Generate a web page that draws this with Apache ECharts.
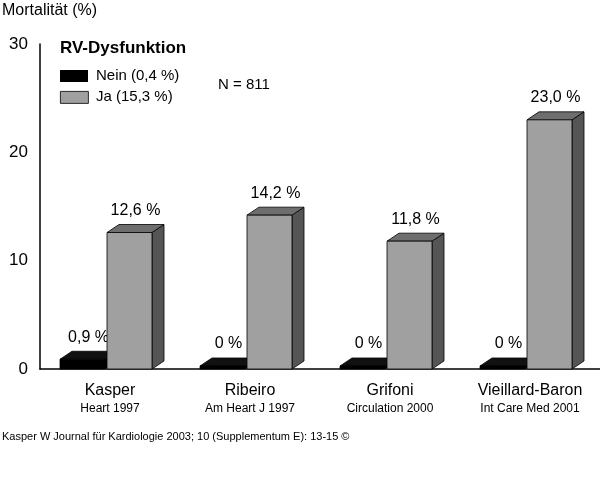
<!DOCTYPE html>
<html><head><meta charset="utf-8">
<script src="https://cdn.jsdelivr.net/npm/echarts@6/dist/echarts.min.js"></script>
<style>html,body{margin:0;padding:0;background:#fff}#c{width:600px;height:488px}</style>
</head><body><div id="c"></div>
<script>
const categories = ['Kasper','Ribeiro','Grifoni','Vieillard-Baron'];
const subtitles = ['Heart 1997','Am Heart J 1997','Circulation 2000','Int Care Med 2001'];
const nein = [0.9, 0, 0, 0];
const ja = [12.6, 14.2, 11.8, 23.0];
const neinLabels = ['0,9 %','0 %','0 %','0 %'];
const jaLabels = ['12,6 %','14,2 %','11,8 %','23,0 %'];
const yTicks = [0, 10, 20, 30];

const FONT = '"Liberation Sans", Arial, sans-serif';
function make3d(offL, offR, front, top, side, labels) {
  return function (params, api) {
    const i = api.value(0), v = api.value(1);
    const base = api.coord([i, 0]);
    const tp = api.coord([i, v]);
    const x0 = base[0] + offL, x1 = base[0] + offR;
    let yt = Math.min(tp[1], base[1] - 3);
    const yb = base[1];
    const dx = 12, dy = 8;
    const s = { stroke: '#000', lineWidth: 0.8 };
    return { type: 'group', children: [
      { type: 'polygon', shape: { points: [[x1, yt], [x1 + dx, yt - dy], [x1 + dx, yb - dy], [x1, yb]] }, style: Object.assign({ fill: side }, s) },
      { type: 'polygon', shape: { points: [[x0, yt], [x0 + dx, yt - dy], [x1 + dx, yt - dy], [x1, yt]] }, style: Object.assign({ fill: top }, s) },
      { type: 'rect', shape: { x: x0, y: yt, width: x1 - x0, height: yb - yt }, style: Object.assign({ fill: front }, s) },
      { type: 'text', x: (x0 + x1 + dx) / 2, y: yt - dy - 6, style: { text: labels[params.dataIndex], fill: '#000', font: '16px ' + FONT, textAlign: 'center', textVerticalAlign: 'bottom' } }
    ] };
  };
}
const chart = echarts.init(document.getElementById('c'));
chart.setOption({
  animation: false,
  grid: { left: 40, right: 0, top: 44, bottom: 119 },
  xAxis: { type: 'category', data: categories, axisTick: { show: false },
    axisLine: { lineStyle: { color: '#000', width: 1.5 } },
    axisLabel: { interval: 0, margin: 12, formatter: (v, i) => '{a|' + v + '}\n{b|' + subtitles[i] + '}',
      rich: { a: { fontSize: 16, fontFamily: FONT, color: '#000', lineHeight: 20 }, b: { fontSize: 12, fontFamily: FONT, color: '#000', lineHeight: 16 } } } },
  yAxis: { type: 'value', min: 0, max: 30, interval: 10, splitLine: { show: false },
    axisLine: { show: true, lineStyle: { color: '#000', width: 1.5 } }, axisTick: { show: false },
    axisLabel: { fontSize: 17, fontFamily: FONT, color: '#000', margin: 12, formatter: v => yTicks.includes(v) ? String(v) : '' } },
  series: [
    { type: 'custom', data: nein.map((v, i) => [i, v]), renderItem: make3d(-50, -5, '#000', '#111', '#000', neinLabels) },
    { type: 'custom', data: ja.map((v, i) => [i, v]), renderItem: make3d(-3, 42, '#a0a0a0', '#6e6e6e', '#555', jaLabels) }
  ],
  graphic: [
    { type: 'text', left: 2, top: 3, style: { text: 'Mortalität (%)', font: '16px ' + FONT, fill: '#000' } },
    { type: 'text', left: 60, top: 40, style: { text: 'RV-Dysfunktion', font: 'bold 17px ' + FONT, fill: '#000' } },
    { type: 'rect', left: 60, top: 70, shape: { width: 28, height: 12 }, style: { fill: '#000' } },
    { type: 'text', left: 96, top: 68, style: { text: 'Nein (0,4 %)', font: '15px ' + FONT, fill: '#000' } },
    { type: 'rect', left: 60, top: 91, shape: { width: 28, height: 12 }, style: { fill: '#a0a0a0', stroke: '#000', lineWidth: 0.8 } },
    { type: 'text', left: 96, top: 89, style: { text: 'Ja (15,3 %)', font: '15px ' + FONT, fill: '#000' } },
    { type: 'text', left: 218, top: 77, style: { text: 'N = 811', font: '15px ' + FONT, fill: '#000' } },
    { type: 'text', left: 2, top: 431, style: { text: 'Kasper W Journal für Kardiologie 2003; 10 (Supplementum E): 13-15 ©', font: '11px ' + FONT, fill: '#000' } }
  ]
});
</script></body></html>
